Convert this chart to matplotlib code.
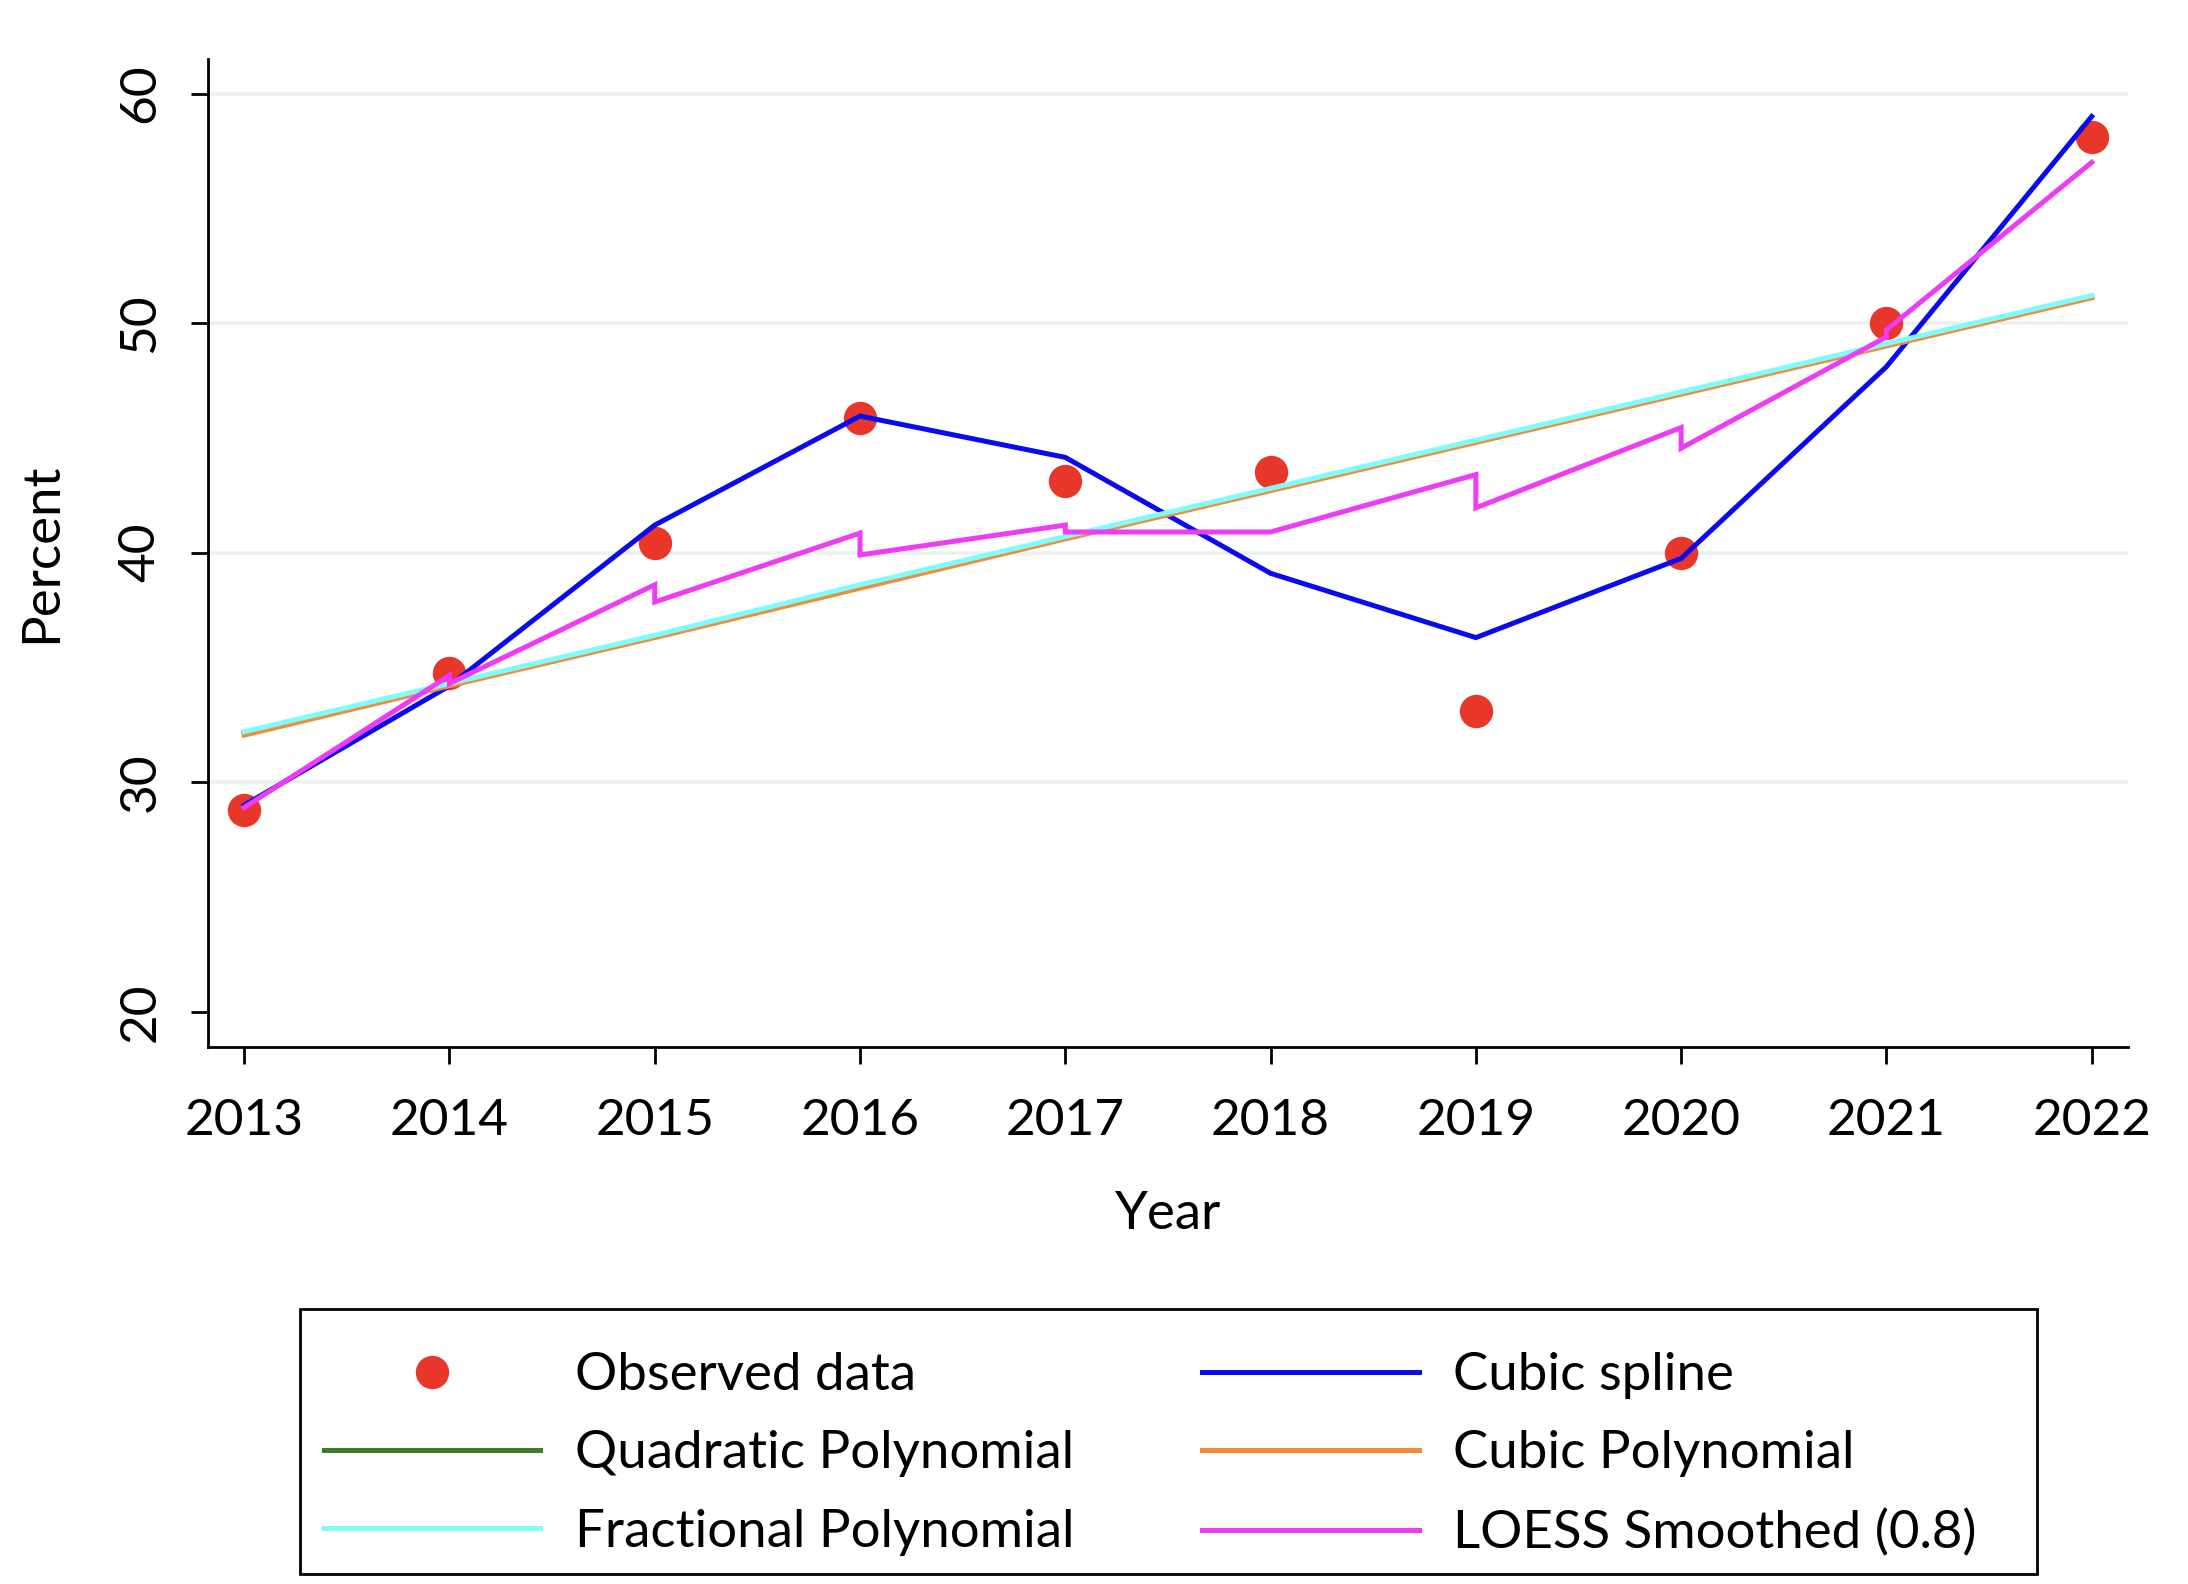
import matplotlib
matplotlib.use("Agg")
import matplotlib.pyplot as plt
from matplotlib.lines import Line2D
from matplotlib.patches import Rectangle

plt.rcParams['font.family'] = ['Lato', 'DejaVu Sans']

years = [2013, 2014, 2015, 2016, 2017, 2018, 2019, 2020, 2021, 2022]
observed = [28.8, 34.75, 40.4, 45.85, 43.1, 43.5, 33.1, 40.0, 50.0, 58.1]
cubic_spline = [29.0, 34.2, 41.2, 45.95, 44.15, 39.1, 36.3, 39.75, 48.1, 59.0]
quadratic_poly = [32.15, 34.25, 36.35, 38.5, 40.65, 42.75, 44.85, 46.95, 49.05, 51.15]
cubic_poly = [32.05, 34.2, 36.3, 38.45, 40.6, 42.7, 44.8, 46.9, 49.0, 51.1]
fractional_poly = [32.2, 34.3, 36.4, 38.6, 40.7, 42.8, 44.9, 47.0, 49.1, 51.2]
loess_x = [2013, 2014, 2014, 2015, 2015, 2016, 2016, 2017, 2017, 2018,
           2019, 2019, 2020, 2020, 2021, 2021, 2022]
loess_y = [28.9, 34.65, 34.3, 38.6, 37.85, 40.85, 39.9, 41.2, 40.9, 40.9,
           43.4, 41.95, 45.45, 44.55, 49.4, 49.7, 57.0]
yticks = [20, 30, 40, 50, 60]

C_OBS = '#E8372A'
C_SPL = '#0A0AF0'
C_QUAD = '#3B7D23'
C_CUB = '#F28B3A'
C_FRAC = '#7FFBFB'
C_LOESS = '#EE3BF5'

fig = plt.figure(figsize=(10.94, 7.92), dpi=200)
ax = fig.add_axes([0.0950, 0.3392, 0.8776, 0.6238])

for g in yticks[1:]:
    ax.axhline(g, color='#EAF1F2', lw=1.3, zorder=0)

lw = 1.8
ms = 11
ax.plot(years, observed, 'o', color=C_OBS, ms=ms, zorder=2, label='Observed data')
ax.plot(years, cubic_spline, color=C_SPL, lw=lw, zorder=3, label='Cubic spline',
        solid_joinstyle='miter')
ax.plot(years, quadratic_poly, color=C_QUAD, lw=lw, zorder=3, label='Quadratic Polynomial')
ax.plot(years, cubic_poly, color=C_CUB, lw=lw, zorder=3, label='Cubic Polynomial')
ax.plot(years, fractional_poly, color=C_FRAC, lw=lw, zorder=3, label='Fractional Polynomial')
ax.plot(loess_x, loess_y, color=C_LOESS, lw=lw, zorder=3, label='LOESS Smoothed (0.8)',
        solid_joinstyle='miter')

ax.set_xlim(2012.823, 2022.177)
ax.set_ylim(18.48, 61.52)
ax.set_xticks(years)
ax.set_xticklabels([str(y) for y in years])
ax.set_yticks(yticks)
ax.set_yticklabels([str(t) for t in yticks], rotation=90, va='center')

for s in ['top', 'right']:
    ax.spines[s].set_visible(False)
for s in ['left', 'bottom']:
    ax.spines[s].set_linewidth(1.0)
ax.tick_params(axis='both', direction='out', length=6, width=1.0, labelsize=18.5)
ax.tick_params(axis='x', pad=12.5)
ax.tick_params(axis='y', pad=10)

ax.set_xlabel('Year', fontsize=19, labelpad=17)
ax.set_ylabel('Percent', fontsize=19, labelpad=19)

# legend frame
fig.patches.append(Rectangle((0.1371, 0.0062), 0.794, 0.1674, transform=fig.transFigure,
                             fill=False, edgecolor='black', lw=1.0, zorder=1))

handles = [
    Line2D([], [], marker='o', ls='none', color=C_OBS, ms=ms),
    Line2D([], [], color=C_QUAD, lw=lw),
    Line2D([], [], color=C_FRAC, lw=lw),
    Line2D([], [], color=C_SPL, lw=lw),
    Line2D([], [], color=C_CUB, lw=lw),
    Line2D([], [], color=C_LOESS, lw=lw),
]
labels = ['Observed data', 'Quadratic Polynomial', 'Fractional Polynomial',
          'Cubic spline', 'Cubic Polynomial', 'LOESS Smoothed (0.8)']
leg = fig.legend(handles, labels, ncol=2, loc='upper left',
                 bbox_to_anchor=(232 / 1568, 1 - 969 / 1135),
                 fontsize=19, frameon=False,
                 handlelength=4.1, handletextpad=0.66, borderpad=0,
                 labelspacing=0.59, columnspacing=2.42, borderaxespad=0)

fig.savefig('out.png', dpi=200, facecolor='white')
